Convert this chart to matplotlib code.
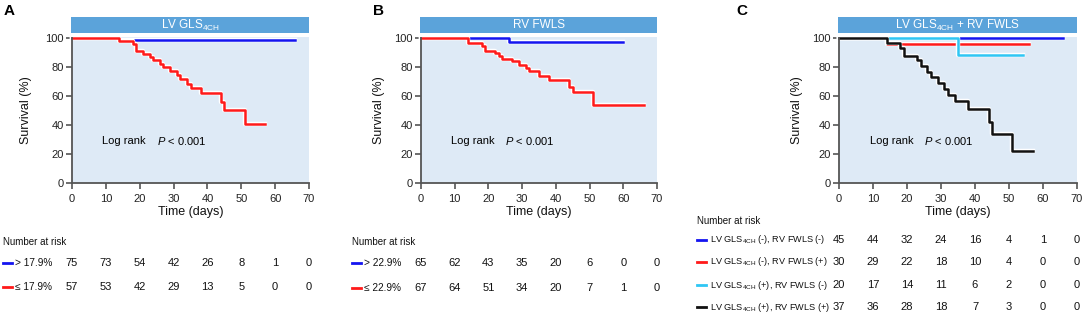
import matplotlib
matplotlib.use('Agg')
import matplotlib.pyplot as plt
import matplotlib.patheffects as pe
from matplotlib.lines import Line2D
from matplotlib.patches import Rectangle
from matplotlib.transforms import blended_transform_factory

plt.rcParams['font.family'] = ['Liberation Sans', 'DejaVu Sans']
plt.rcParams['mathtext.fontset'] = 'custom'
plt.rcParams['mathtext.rm'] = 'Liberation Sans'
plt.rcParams['mathtext.it'] = 'Liberation Sans:italic'
plt.rcParams['mathtext.default'] = 'regular'

W, H = 1084, 316

RED = '#ff1a1a'
BLUE = '#1414f0'
CYAN = '#2fc6f4'
BLACK = '#111111'
HEADER = '#5ba3da'
BG = '#deeaf6'

risk_times = [0, 10, 20, 30, 40, 50, 60, 70]

# panel A: LV GLS 4CH
a_hi_t = [0, 14, 66]
a_hi_s = [100, 98.7, 98.7]
a_lo_t = [0, 14, 18, 19, 21, 23, 24, 26, 27, 29, 31, 32, 34, 35, 38, 44, 45, 51, 57]
a_lo_s = [100, 98.2, 96.5, 91.5, 89.5, 87.5, 85, 82.5, 80, 77.5, 75, 72, 68.5, 65.5, 62, 56, 50.5, 40.5, 40.5]
a_risk_hi = [75, 73, 54, 42, 26, 8, 1, 0]
a_risk_lo = [57, 53, 42, 29, 13, 5, 0, 0]

# panel B: RV FWLS
b_hi_t = [0, 26, 60]
b_hi_s = [100, 97.7, 97.7]
b_lo_t = [0, 14, 18, 19, 22, 23, 24, 27, 29, 31, 32, 35, 38, 44, 45, 51, 66]
b_lo_s = [100, 96.7, 95, 91.6, 90, 88, 85.8, 84.1, 81.8, 79.3, 77.4, 73.7, 71.4, 66.7, 62.9, 53.8, 53.8]
b_risk_hi = [65, 62, 43, 35, 20, 6, 0, 0]
b_risk_lo = [67, 64, 51, 34, 20, 7, 1, 0]

# panel C: combined
c_nn_t = [0, 66]
c_nn_s = [100, 100]
c_np_t = [0, 14, 56]
c_np_s = [100, 96, 96]
c_pn_t = [0, 35, 54]
c_pn_s = [100, 88.8, 88.8]
c_pp_t = [0, 14, 18, 19, 23, 24, 26, 27, 29, 31, 32, 34, 38, 44, 45, 51, 57]
c_pp_s = [100, 97, 93.7, 87.9, 84.8, 80.6, 77, 73, 69.2, 65, 61, 56.8, 51.4, 42.3, 33.6, 22.4, 22.4]
c_risk_nn = [45, 44, 32, 24, 16, 4, 1, 0]
c_risk_np = [30, 29, 22, 18, 10, 4, 0, 0]
c_risk_pn = [20, 17, 14, 11, 6, 2, 0, 0]
c_risk_pp = [37, 36, 28, 18, 7, 3, 0, 0]

fig = plt.figure(figsize=(W / 100, H / 100), dpi=100)


def fx(px):
    return px / W


def fy(py):
    return 1 - py / H


def make_axes(left_px, right_px, title):
    top_px, bottom_px = 37, 183
    ax = fig.add_axes([fx(left_px), fy(bottom_px), fx(right_px - left_px), (bottom_px - top_px) / H])
    ax.set_facecolor(BG)
    ax.set_xlim(0, 70)
    ax.set_ylim(0, 101)
    ax.set_xticks(range(0, 71, 10))
    ax.set_yticks(range(0, 101, 20))
    for s in ['top', 'right']:
        ax.spines[s].set_visible(False)
    for s in ['left', 'bottom']:
        ax.spines[s].set_color('#555555')
        ax.spines[s].set_linewidth(1.3)
    ax.spines['left'].set_bounds(0, 100)
    ax.tick_params(colors='#555555', labelcolor='#222222', labelsize=8, length=4, width=1.2, pad=2)
    ax.tick_params(axis='x', pad=4)
    ax.set_xlabel('Time (days)', fontsize=9, color='#111111')
    ax.xaxis.set_label_coords(0.5, -(206 - 183) / 146)
    ax.set_ylabel('Survival (%)', fontsize=9, color='#111111')
    # header bar
    fig.patches.append(Rectangle((fx(left_px - 1), fy(33)), fx(right_px - left_px + 1), 16 / H,
                                 transform=fig.transFigure, facecolor=HEADER, edgecolor='none'))
    fig.text(fx((left_px + right_px) / 2), fy(25), title, color='white', fontsize=8.5,
             ha='center', va='center')
    ax.text(9, 29, 'Log rank', fontsize=8, va='center')
    ax.text(25, 29, '$\\it{P}$ < 0.001', fontsize=8, va='center')
    return ax


def km(ax, t, s, color):
    ax.step(t, s, where='post', color=color, linewidth=1.8, clip_on=False,
            path_effects=[pe.Stroke(linewidth=3.2, foreground='white'), pe.Normal()])


def risk_row(ax, y_px, label, color, values, dash_px, label_px, label_size=7.3):
    tr = blended_transform_factory(ax.transData, fig.transFigure)
    for t, v in zip(risk_times, values):
        ax.text(t, fy(y_px), str(v), transform=tr, ha='center', va='center', fontsize=8,
                color='#111111', clip_on=False)
    fig.add_artist(Line2D([fx(dash_px), fx(dash_px + 9)], [fy(y_px), fy(y_px)], color=color,
                          linewidth=2, transform=fig.transFigure))
    fig.text(fx(label_px), fy(y_px), label, ha='left', va='center', fontsize=label_size,
             color='#111111')


# panel A
ax_a = make_axes(72, 309, 'LV GLS$_{4CH}$')
ax_a.yaxis.set_label_coords((32 - 72) / 237, 0.5)
km(ax_a, a_hi_t, a_hi_s, BLUE)
km(ax_a, a_lo_t, a_lo_s, RED)
fig.text(fx(4), fy(11), 'A', fontsize=11, fontweight='bold', va='center')
fig.text(fx(3), fy(242), 'Number at risk', fontsize=7, va='center', color='#111111')
risk_row(ax_a, 263, '> 17.9%', BLUE, a_risk_hi, 3, 15)
risk_row(ax_a, 287, '\u2264 17.9%', RED, a_risk_lo, 3, 15)

# panel B
ax_b = make_axes(421, 657, 'RV FWLS')
ax_b.yaxis.set_label_coords((385 - 421) / 236, 0.5)
km(ax_b, b_hi_t, b_hi_s, BLUE)
km(ax_b, b_lo_t, b_lo_s, RED)
fig.text(fx(373), fy(11), 'B', fontsize=11, fontweight='bold', va='center')
fig.text(fx(352), fy(242), 'Number at risk', fontsize=7, va='center', color='#111111')
risk_row(ax_b, 263, '> 22.9%', BLUE, b_risk_hi, 352, 364)
risk_row(ax_b, 288, '\u2264 22.9%', RED, b_risk_lo, 352, 364)

# panel C
ax_c = make_axes(839, 1077, 'LV GLS$_{4CH}$ + RV FWLS')
ax_c.yaxis.set_label_coords((803 - 839) / 238, 0.5)
km(ax_c, c_nn_t, c_nn_s, BLUE)
km(ax_c, c_np_t, c_np_s, RED)
km(ax_c, c_pn_t, c_pn_s, CYAN)
km(ax_c, c_pp_t, c_pp_s, BLACK)
fig.text(fx(736), fy(11), 'C', fontsize=11, fontweight='bold', va='center')
fig.text(fx(697), fy(221), 'Number at risk', fontsize=7, va='center', color='#111111')
risk_row(ax_c, 240, 'LV GLS$_{4CH}$ (-), RV FWLS (-)', BLUE, c_risk_nn, 697, 710, 6.6)
risk_row(ax_c, 262, 'LV GLS$_{4CH}$ (-), RV FWLS (+)', RED, c_risk_np, 697, 710, 6.6)
risk_row(ax_c, 285, 'LV GLS$_{4CH}$ (+), RV FWLS (-)', CYAN, c_risk_pn, 697, 710, 6.6)
risk_row(ax_c, 307, 'LV GLS$_{4CH}$ (+), RV FWLS (+)', BLACK, c_risk_pp, 697, 710, 6.6)

fig.savefig('out.png', dpi=100)
